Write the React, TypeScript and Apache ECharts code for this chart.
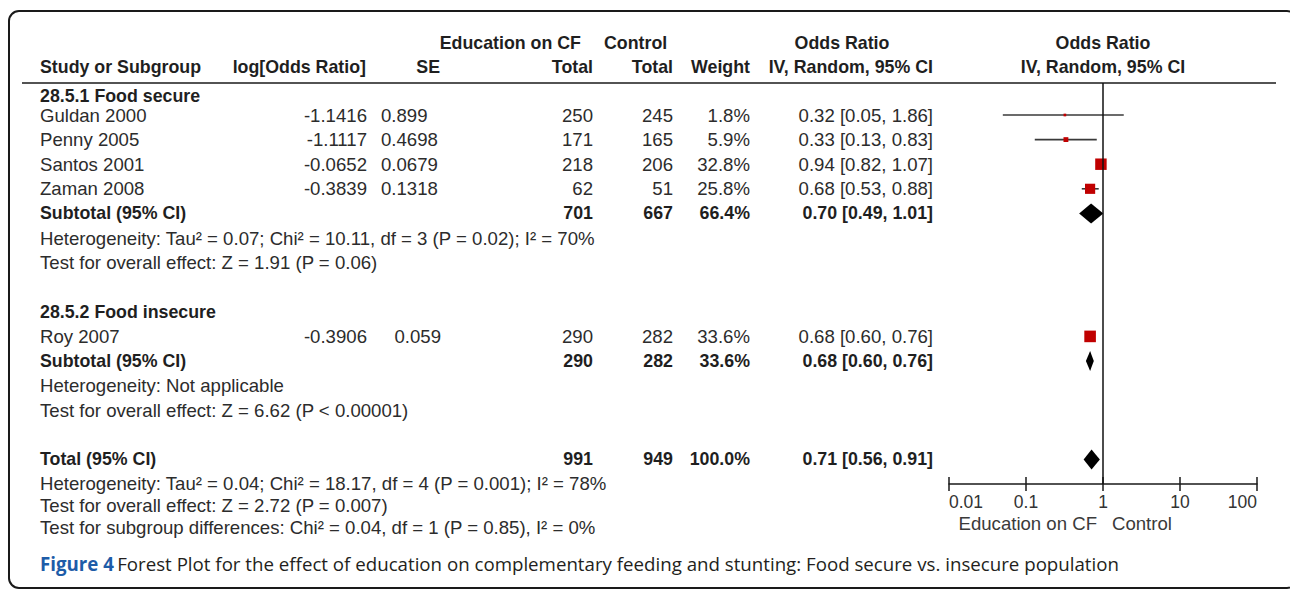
import React, { useEffect, useRef } from "react";
import * as echarts from "echarts";

// ---------- data ----------
const studies = ["Guldan 2000", "Penny 2005", "Santos 2001", "Zaman 2008", "Roy 2007"];
const logOR = [-1.1416, -1.1117, -0.0652, -0.3839, -0.3906];
const seVals = [0.899, 0.4698, 0.0679, 0.1318, 0.059];
const eduTotals = [250, 171, 218, 62, 290];
const ctrlTotals = [245, 165, 206, 51, 282];
const weights = [1.8, 5.9, 32.8, 25.8, 33.6];
const orEst = [0.32, 0.33, 0.94, 0.68, 0.68];
const orLow = [0.05, 0.13, 0.82, 0.53, 0.6];
const orHigh = [1.86, 0.83, 1.07, 0.88, 0.76];

const pooledLabels = ["Subtotal (95% CI)", "Subtotal (95% CI)", "Total (95% CI)"];
const pooledEdu = [701, 290, 991];
const pooledCtrl = [667, 282, 949];
const pooledWeight = [66.4, 33.6, 100.0];
const pooledOR = [0.7, 0.68, 0.71];
const pooledLow = [0.49, 0.6, 0.56];
const pooledHigh = [1.01, 0.76, 0.91];

const groupTitles = ["28.5.1 Food secure", "28.5.2 Food insecure"];
const groupStats = [
  ["Heterogeneity: Tau² = 0.07; Chi² = 10.11, df = 3 (P = 0.02); I² = 70%", "Test for overall effect: Z = 1.91 (P = 0.06)"],
  ["Heterogeneity: Not applicable", "Test for overall effect: Z = 6.62 (P < 0.00001)"],
];
const totalStats = [
  "Heterogeneity: Tau² = 0.04; Chi² = 18.17, df = 4 (P = 0.001); I² = 78%",
  "Test for overall effect: Z = 2.72 (P = 0.007)",
  "Test for subgroup differences: Chi² = 0.04, df = 1 (P = 0.85), I² = 0%",
];
const xTicks = [0.01, 0.1, 1, 10, 100];
const favours = ["Education on CF", "Control"];
const caption = ["Figure 4", "Forest Plot for the effect of education on complementary feeding and stunting: Food secure vs. insecure population"];

// ---------- layout (row indices in table lines) ----------
const studyRows = [0, 1, 2, 3, 9];
const pooledRows = [4, 10, 14];
const ROW0 = 115;
const ROWH = 24.6;
const rowY = (k: number) => ROW0 + ROWH * k;

const FONT = '"Liberation Sans", Arial, Helvetica, sans-serif';
const TXT = "#2c2c2c";
const TXTB = "#1f1f1f";
const FS = 18.6;
const FSB = 17.8;
const GRID_TOP = 83;
const GRID_BOTTOM = 484;
const GRID_LEFT = 949;
const GRID_RIGHT = 1257;

function t(text: string, x: number, y: number, align: string, bold = false, extra: any = {}) {
  return {
    type: "text",
    x,
    y,
    silent: true,
    style: {
      text,
      fill: extra.fill || (bold ? TXTB : TXT),
      fontSize: extra.fontSize || (bold ? FSB : FS),
      fontWeight: bold ? "bold" : "normal",
      fontFamily: extra.fontFamily || FONT,
      textAlign: align,
      align,
      textVerticalAlign: "middle",
      verticalAlign: "middle",
    },
  };
}

export default function App() {
  const ref = useRef<HTMLDivElement>(null);
  useEffect(() => {
    const el = ref.current!;
    const chart = echarts.init(el, null, { renderer: "svg" });

    const g: any[] = [];
    // border
    g.push({
      type: "rect",
      silent: true,
      shape: { x: 9, y: 11, width: 1288, height: 577, r: 10 },
      style: { fill: "none", stroke: "#1a1a1a", lineWidth: 2 },
    });
    // header
    const h1 = 43, h2 = 67;
    g.push(t("Education on CF", 581, h1, "right", true));
    g.push(t("Control", 604, h1, "left", true));
    g.push(t("Odds Ratio", 842, h1, "center", true));
    g.push(t("Odds Ratio", 1103, h1, "center", true));
    g.push(t("Study or Subgroup", 40, h2, "left", true));
    g.push(t("log[Odds Ratio]", 366, h2, "right", true));
    g.push(t("SE", 440, h2, "right", true));
    g.push(t("Total", 593, h2, "right", true));
    g.push(t("Total", 673, h2, "right", true));
    g.push(t("Weight", 750, h2, "right", true));
    g.push(t("IV, Random, 95% CI", 933, h2, "right", true));
    g.push(t("IV, Random, 95% CI", 1103, h2, "center", true));
    g.push({
      type: "line",
      silent: true,
      shape: { x1: 22, y1: GRID_TOP, x2: 1276, y2: GRID_TOP },
      style: { stroke: "#1a1a1a", lineWidth: 1.5 },
    });

    // group titles
    g.push(t(groupTitles[0], 40, 96, "left", true));
    g.push(t(groupTitles[1], 40, rowY(8), "left", true));

    // study rows
    studies.forEach((s, i) => {
      const y = rowY(studyRows[i]);
      g.push(t(s, 40, y, "left"));
      g.push(t(String(logOR[i]), 367, y, "right"));
      if (i < 4) g.push(t(String(seVals[i]), 381, y, "left"));
      else g.push(t(String(seVals[i]), 441, y, "right"));
      g.push(t(String(eduTotals[i]), 593, y, "right"));
      g.push(t(String(ctrlTotals[i]), 673, y, "right"));
      g.push(t(weights[i].toFixed(1) + "%", 750, y, "right"));
      g.push(
        t(`${orEst[i].toFixed(2)} [${orLow[i].toFixed(2)}, ${orHigh[i].toFixed(2)}]`, 933, y, "right")
      );
    });

    // pooled rows
    pooledLabels.forEach((s, i) => {
      const y = rowY(pooledRows[i]);
      g.push(t(s, 40, y, "left", true));
      g.push(t(String(pooledEdu[i]), 593, y, "right", true));
      g.push(t(String(pooledCtrl[i]), 673, y, "right", true));
      g.push(t(pooledWeight[i].toFixed(1) + "%", 750, y, "right", true));
      g.push(
        t(`${pooledOR[i].toFixed(2)} [${pooledLow[i].toFixed(2)}, ${pooledHigh[i].toFixed(2)}]`, 933, y, "right", true)
      );
    });

    // group stats
    g.push(t(groupStats[0][0], 40, rowY(5), "left"));
    g.push(t(groupStats[0][1], 40, rowY(6), "left"));
    g.push(t(groupStats[1][0], 40, rowY(11), "left"));
    g.push(t(groupStats[1][1], 40, rowY(12), "left"));
    const ty = [483, 505, 527];
    totalStats.forEach((s, i) => g.push(t(s, 40, ty[i], "left")));

    // favours labels
    g.push(t(favours[0], 1097, 523, "right", false, { fill: "#3a3a3a" }));
    g.push(t(favours[1], 1112, 523, "left", false, { fill: "#3a3a3a" }));

    // caption
    g.push({
      type: "text",
      x: 40,
      y: 563,
      silent: true,
      style: {
        text: `{b|${caption[0]}} {n|${caption[1]}}`,
        textVerticalAlign: "middle",
        verticalAlign: "middle",
        rich: {
          b: { fontFamily: '"Open Sans", sans-serif', fontWeight: "bold", fontSize: 18.7, fill: "#1d5ca8", color: "#1d5ca8" },
          n: { fontFamily: '"Open Sans", sans-serif', fontSize: 18.7, fill: "#231f20", color: "#231f20" },
        },
      },
    });

    const kTop = (GRID_TOP - ROW0) / ROWH;
    const kBot = (GRID_BOTTOM - ROW0) / ROWH;

    const ciData = studies.map((_, i) => [orLow[i], orHigh[i], studyRows[i]]);
    const sqData = studies.map((_, i) => [orEst[i], studyRows[i], weights[i]]);
    const dmData = pooledOR.map((v, i) => [v, pooledLow[i], pooledHigh[i], pooledRows[i]]);

    const axisBase = {
      type: "log",
      logBase: 10,
      min: xTicks[0],
      max: xTicks[xTicks.length - 1],
      position: "bottom",
      splitLine: { show: false },
    };

    const option: any = {
      animation: false,
      backgroundColor: "#fff",
      grid: {
        left: GRID_LEFT,
        top: GRID_TOP,
        width: GRID_RIGHT - GRID_LEFT,
        height: GRID_BOTTOM - GRID_TOP,
        containLabel: false,
      },
      xAxis: [
        {
          ...axisBase,
          axisLine: { show: true, onZero: false, lineStyle: { color: "#1a1a1a", width: 1.5 } },
          axisTick: { show: true, inside: false, length: 7, lineStyle: { color: "#1a1a1a", width: 1.5 } },
          axisLabel: {
            show: true,
            color: "#333",
            fontSize: 17.5,
            fontFamily: FONT,
            margin: 9,
            alignMinLabel: "left",
            alignMaxLabel: "right",
            formatter: (v: number) => String(v),
          },
        },
        {
          ...axisBase,
          axisLine: { show: false, onZero: false },
          axisTick: { show: true, inside: true, length: 7, lineStyle: { color: "#1a1a1a", width: 1.5 } },
          axisLabel: { show: false },
        },
      ],
      yAxis: { type: "value", min: kTop, max: kBot, inverse: true, show: false },
      series: [
        {
          type: "custom",
          name: "ci",
          data: ciData,
          renderItem: (params: any, api: any) => {
            const a = api.coord([api.value(0), api.value(2)]);
            const b = api.coord([api.value(1), api.value(2)]);
            return {
              type: "line",
              shape: { x1: a[0], y1: a[1], x2: b[0], y2: b[1] },
              style: { stroke: "#3a3a3a", lineWidth: 1.6 },
            };
          },
          z: 2,
        },
        {
          type: "scatter",
          name: "study",
          data: sqData,
          symbol: "rect",
          symbolSize: (v: number[]) => 2 * Math.sqrt(v[2]),
          itemStyle: { color: "#c00000", opacity: 1 },
          z: 3,
          markLine: {
            silent: true,
            symbol: ["none", "none"],
            label: { show: false },
            lineStyle: { color: "#111", width: 1.5, type: "solid" },
            data: [{ xAxis: 1 }],
          },
        },
        {
          type: "custom",
          name: "pooled",
          data: dmData,
          renderItem: (params: any, api: any) => {
            const c = api.coord([api.value(0), api.value(3)]);
            const l = api.coord([api.value(1), api.value(3)]);
            const r = api.coord([api.value(2), api.value(3)]);
            const hh = 10;
            return {
              type: "polygon",
              shape: { points: [[l[0], c[1]], [c[0], c[1] - hh], [r[0], c[1]], [c[0], c[1] + hh]] },
              style: { fill: "#000" },
            };
          },
          z: 4,
        },
      ],
    };
    option.graphic = { elements: g };
    chart.setOption(option);
    return () => chart.dispose();
  }, []);
  return (
    <div
      ref={ref}
      style={{ position: "absolute", left: 0, top: 0, width: 1290, height: 590, background: "#fff" }}
    />
  );
}
